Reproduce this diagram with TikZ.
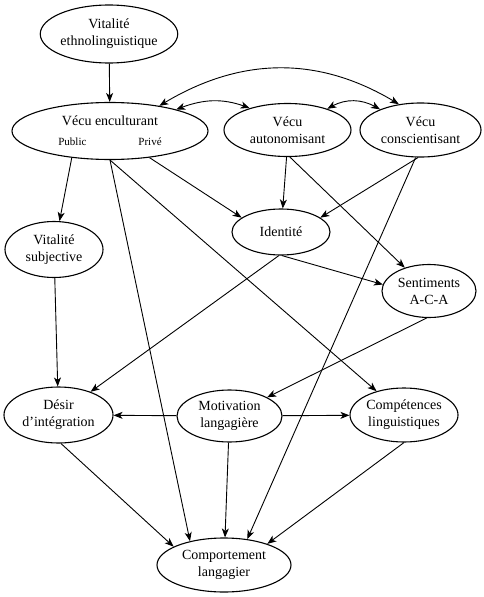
\documentclass[tikz,border=0pt]{standalone}
\usepackage{fontspec}
\setmainfont{Liberation Serif}
\usepackage{tikz}
\usetikzlibrary{positioning}
\usetikzlibrary{shapes.geometric, arrows.meta, bending}
\tikzstyle{bulle} = [ellipse, draw=black, line width=1.1pt, inner sep=0pt, align=center, font=\fontsize{14}{17}\selectfont]
\tikzstyle{fleche} = [line width=0.9pt, >={Stealth[length=9pt,width=7pt,inset=2.5pt]}, ->]
\tikzstyle{dbfleche} = [fleche, <->]

\begin{document}
\begin{tikzpicture}[x=1pt,y=-1pt]
      \useasboundingbox (0,0) rectangle (484,597);
      %%%%%%%%%%%%%%%%%%%%%%%%%%%%%%%%%%%%%%%
      \draw (109,34) node (vet) [bulle, minimum width=132pt, minimum height=58pt] {Vitalité\\ethnolinguistique};
      \draw (110,131) node (enc) [bulle, minimum width=196pt, minimum height=57pt] {Vécu enculturant\\[3pt]{\fontsize{11}{13}\selectfont Public\hspace{52pt}Privé}};
      \draw (287.5,130) node (aut) [bulle, minimum width=127pt, minimum height=53pt] {Vécu\\autonomisant};
      \draw (420.5,130) node (con) [bulle, minimum width=121pt, minimum height=54pt] {Vécu\\conscientisant};
      \draw (281,232) node (ide) [bulle, minimum width=98pt, minimum height=46pt] {Identité};
      \draw (54,249.5) node (vsub) [bulle, minimum width=98pt, minimum height=56pt] {Vitalité\\subjective};
      \draw (429,291) node (sent) [bulle, minimum width=94pt, minimum height=53pt] {Sentiments\\A-C-A};
      \draw (58.5,415) node (des) [bulle, minimum width=109pt, minimum height=56pt] {Désir\\d'intégration};
      \draw (229.5,416) node (mot) [bulle, minimum width=105pt, minimum height=52pt] {Motivation\\langagière};
      \draw (404,415) node (cpt) [bulle, minimum width=108pt, minimum height=54pt] {Compétences\\linguistiques};
      \draw (224,565) node (cmp) [bulle, minimum width=134pt, minimum height=54pt] {Comportement\\langagier};
      %%%%%%%%%%%%%%%%%%%%%%%%%%%%%%%%%%%%%%%
      \draw[fleche] (vet)--(enc);
      \draw[dbfleche] (enc.18) to[out=22,in=158] (aut.150);
      \draw[dbfleche] (aut.28) to[out=33,in=147] (con.153);
      \draw[dbfleche] (enc.27) to[out=32,in=148] (con.130);
      \draw[fleche] (enc.-145)--(vsub);
      \draw[fleche] (enc.-90)--(cmp.145);
      \draw[fleche] (enc.-90)--(cpt);
      \draw[fleche] (enc.-34)--(ide.160);
      \draw[fleche] (aut.-92)--(ide);
      \draw[fleche] (aut.-85)--(sent);
      \draw[fleche] (con.-95)--(ide.20);
      \draw[fleche] (con.-100)--(cmp.48);
      \draw[fleche] (vsub)--(des);
      \draw[fleche] (ide.-95)--(des);
      \draw[fleche] (ide.-88)--(sent.172);
      \draw[fleche] (sent.-95)--(mot);
      \draw[fleche] (mot)--(des);
      \draw[fleche] (mot)--(cpt);
      \draw[fleche] (mot)--(cmp);
      \draw[fleche] (des.-85)--(cmp.160);
      \draw[fleche] (cpt.-90)--(cmp.26);
\end{tikzpicture}
\end{document}
